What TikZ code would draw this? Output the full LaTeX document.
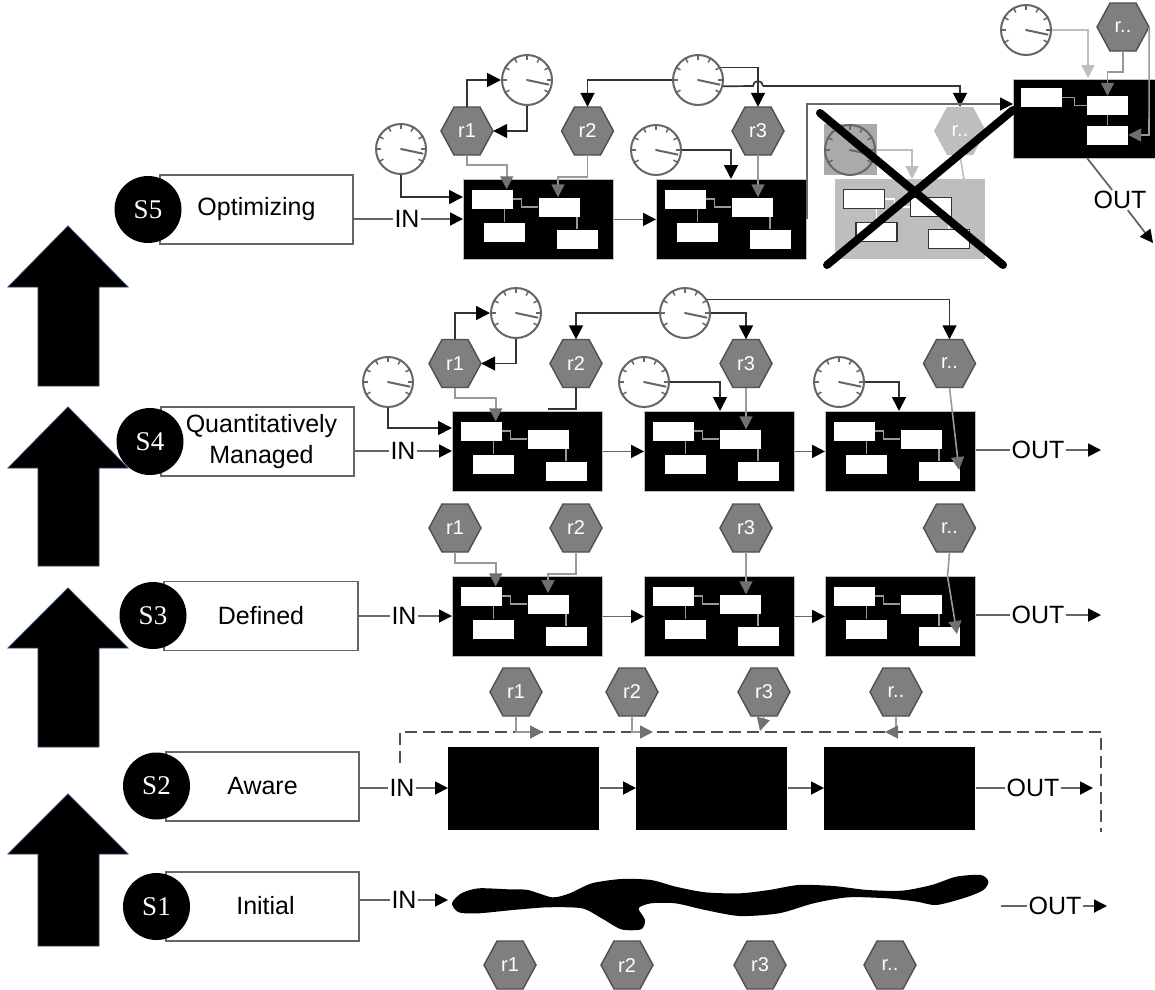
\documentclass[tikz,border=0pt]{standalone}
\usepackage{fontspec}
\setmainfont{Liberation Sans}
\newfontfamily\timesf{Liberation Serif}
\usetikzlibrary{arrows.meta,calc}
\definecolor{hexfill}{HTML}{7F7F7F}
\definecolor{hexline}{HTML}{4F4F4F}
\definecolor{gaugeline}{HTML}{666666}
\definecolor{linkdark}{HTML}{333333}
\definecolor{flowline}{HTML}{666666}
\definecolor{linkgrey}{HTML}{999999}
\definecolor{headgrey}{HTML}{707070}
\definecolor{lightg}{HTML}{BEBEBE}
\definecolor{squareg}{HTML}{AAAAAA}
\definecolor{bigedge}{HTML}{2A3F66}
\tikzset{
  x=1pt,y=-1pt,
  lab/.style={font=\fontsize{25}{31}\selectfont,align=center},
  stagebox/.style={draw=flowline,line width=1.5pt,fill=white,minimum width=#1,minimum height=69pt,inner sep=0pt,lab},
  stagedot/.style={circle,fill=black,minimum size=67pt,inner sep=0pt,text=white,font=\timesf\fontsize{27}{27}\selectfont},
  flowtxt/.style={inner sep=1pt,lab},
  proc/.style={fill=black,draw=lightg,line width=.8pt,minimum width=150pt,minimum height=80pt,inner sep=0pt},
  innerb/.style={fill=white,minimum width=41pt,minimum height=19pt,inner sep=0pt},
  innerlink/.style={draw=linkgrey,line width=1.2pt},
  hexshape/.style={fill=hexfill,draw=hexline,line width=1.4pt},
  hexlabel/.style={minimum width=52pt,minimum height=48pt,inner sep=0pt,text=white,font=\fontsize{20}{20}\selectfont},
  gaugeb/.style={circle,draw=gaugeline,line width=2pt,fill=white,minimum size=50pt,inner sep=0pt},
  gaugedraw/.style={draw=gaugeline,line width=1.5pt},
  flowarrow/.style={draw=flowline,line width=1.8pt,-{Triangle[length=13pt,width=13pt,color=black]}},
  flowplain/.style={draw=flowline,line width=1.8pt},
  blackarrow/.style={draw=linkdark,line width=1.7pt,-{Triangle[length=14pt,width=14pt,color=black]}},
  greyarrow/.style={draw=linkgrey,line width=1.6pt,-{Triangle[length=13pt,width=13pt,color=headgrey]}},
  lightarrow/.style={draw=lightg,line width=1.6pt,-{Triangle[length=13pt,width=13pt,color=lightg]}},
  bigarrow/.style={fill=black,draw=bigedge,line width=.8pt},
  dashline/.style={draw=hexline,line width=2.4pt,dash pattern=on 12pt off 6pt},
  crossline/.style={draw=black,line width=8pt,line cap=round}
}
% hexagon: #1 extra style, #2 name, #3 x, #4 y, #5 label
\newcommand{\hexa}[5][]{%
  \draw[hexshape,#1] (#3,#4) ++(-26,0) -- ++(13,-24) -- ++(26,0) -- ++(13,24) -- ++(-13,24) -- ++(-26,0) -- cycle;
  \node[hexlabel] (#2) at (#3,#4) {#5};}
% gauge: #1 extra style, #2 name, #3 x, #4 y
\newcommand{\gaugeat}[4][]{%
  \node[gaugeb,#1] (#2) at (#3,#4) {};
  \foreach \a in {210,180,150,120,90,60,30,0,-30}
    \draw[gaugedraw] (#2.\a) -- ($(#2.center)!0.78!(#2.\a)$);
  \draw[gaugedraw,line width=2pt,line cap=round] (#2.center) -- ($(#2.center)!0.85!(#2.-12)$);}
% process block: #1 name, #2 x, #3 y (top left)
\newcommand{\procbox}[3]{%
  \node[proc,anchor=north west] (#1) at (#2,#3) {};
  \node[innerb] (#1a) at ([shift={(29,20)}]#1.north west) {};
  \node[innerb] (#1b) at ([shift={(96,28)}]#1.north west) {};
  \node[innerb] (#1c) at ([shift={(41.5,53)}]#1.north west) {};
  \node[innerb] (#1d) at ([shift={(114,60)}]#1.north west) {};
  \draw[innerlink] (#1a.east) -- ++(9,0) -- ++(0,8) -- (#1b.west);
  \draw[innerlink] (#1a.south -| #1c.north) -- (#1c.north);
  \draw[innerlink] (#1b.south -| #1d.north) -- (#1d.north);}
\begin{document}
\begin{tikzpicture}
\useasboundingbox (0,0) rectangle (1155,989);
% big arrows
\foreach \t/\w/\b in {226/287/386,407/468/566,588/648/747,794/854/946}
  \draw[bigarrow] (68,\t) -- (128,\w) -- (99,\w) -- (99,\b) -- (38,\b) -- (38,\w) -- (8,\w) -- cycle;
% stage boxes and dots
\node[stagebox=193pt] (b5) at (256.5,209.5) {\raisebox{-2pt}{Optimizing}};
\node[stagebox=193pt] (b4) at (257.5,441.5) {\hspace*{8pt}Quantitatively\\\hspace*{8pt}Managed};
\node[stagebox=194pt] (b3) at (261,616) {\raisebox{1pt}{Defined}};
\node[stagebox=193pt] (b2) at (262.5,786.5) {\raisebox{2pt}{Aware}};
\node[stagebox=193pt] (b1) at (262.5,906.5) {\raisebox{2pt}{\hspace*{6pt}Initial}};
\node[stagedot] (d5) at (148,209.5) {S5};
\node[stagedot] (d4) at (150,441.5) {S4};
\node[stagedot] (d3) at (153,615.5) {S3};
\node[stagedot] (d2) at (156.5,786) {S2};
\node[stagedot] (d1) at (156.5,906.5) {S1};
% flow labels
\node[flowtxt] (in5) at (407,219) {IN};
\node[flowtxt] (in4) at (403,451) {IN};
\node[flowtxt] (in3) at (404,616) {IN};
\node[flowtxt] (in2) at (402,788) {IN};
\node[flowtxt] (in1) at (404,900) {IN};
\node[flowtxt] (out5) at (1120,200) {OUT};
\node[flowtxt] (out4) at (1038,450) {OUT};
\node[flowtxt] (out3) at (1038,615) {OUT};
\node[flowtxt] (out2) at (1033,788) {OUT};
\node[flowtxt] (out1) at (1055,906) {OUT};
% ---------- S5 row
\procbox{p5a}{463}{179}
\procbox{p5b}{656}{179}
\begin{scope}[proc/.append style={fill=lightg,draw=none},innerb/.append style={draw=linkdark,line width=1.3pt},innerlink/.append style={draw=white}]
\procbox{p5c}{835}{179}
\end{scope}
\node[proc,anchor=north west,minimum width=142pt,minimum height=79pt] (p5d) at (1013,79) {};
\node[innerb] (p5da) at (1041.5,97.5) {};
\node[innerb] (p5db) at (1107.5,105.5) {};
\node[innerb] (p5dc) at (1107.5,135) {};
\draw[innerlink] (p5da.east) -- ++(12,0) -- ++(0,8) -- (p5db.west);
\draw[innerlink] (p5db) -- (p5dc);
\hexa{s5r1}{467}{131}{r1}
\hexa{s5r2}{587.5}{131}{r2}
\hexa{s5r3}{758}{131}{r3}
\hexa[fill=lightg,draw=none]{s5rd}{960}{131}{r..}
\hexa{s5rt}{1123}{27}{r..}
\gaugeat{s5g1}{527}{80}
\gaugeat{s5g2}{401}{149}
\gaugeat{s5g3}{698}{80}
\gaugeat{s5g4}{656}{150}
\gaugeat{s5g6}{1026}{30}
\fill[squareg] (824,124) rectangle (877,175);
\gaugeat[fill=squareg]{s5g5}{850}{150}
\draw[flowplain] (b5.east |- in5) -- (in5);
\draw[flowarrow] (in5) -- (p5a.west |- in5);
\draw[flowarrow] (p5a.east) -- (p5b.west);
\draw[blackarrow] (s5g2.south) |- (p5a.west |- 0,197);
\draw[blackarrow] (s5r1.north) |- (s5g1.west);
\draw[blackarrow] (s5g1.south) |- (s5r1.east);
\draw[greyarrow] (s5r1.south) -- ++(0,10) -| ([xshift=-6pt]p5aa.north east);
\draw[greyarrow] (s5r2.south) -- ++(0,22) -| ([xshift=-1pt]p5ab.north);
\draw[blackarrow] (s5g3.west) -| (s5r2.north);
\draw[blackarrow] (s5g3.29) -| (s5r3.north);
\draw[draw=linkdark,line width=1.7pt] (s5g3.-14) -- (753,86) arc[start angle=180,end angle=360,radius=5] coordinate (jump5);
\draw[blackarrow] (jump5) -| (s5rd.north);
\draw[blackarrow] (s5g4.east) -| (731,179);
\draw[greyarrow] (s5r3.south) -- (s5r3.south |- p5bb.north);
\draw[flowarrow] (p5b.east) |- (p5d.west |- 0,104);
\draw[lightarrow] (s5g5.east) -| (912,179);
\draw[draw=lightg,line width=1.6pt] (s5rd.south) -- (964,179);
\draw[lightarrow] (s5g6.east) -| (1088,78);
\draw[greyarrow] (s5rt.south) -- ++(0,21) -| (p5db.north);
\draw[greyarrow] (s5rt.east) -- (1149,135) -- (p5dc.east);
\coordinate (d5out) at (1087,158);
\coordinate (end5) at (1153,243);
\draw[flowplain] (d5out) -- (out5);
\draw[flowarrow] (out5) -- (end5);
\coordinate (xa) at (820,113);
\coordinate (xb) at (1003,265);
\coordinate (xc) at (827,265);
\coordinate (xd) at (1013,110);
\draw[crossline] (xa) -- (xb);
\draw[crossline] (xc) -- (xd);
% ---------- S4 row
\procbox{p4a}{452}{411}
\procbox{p4b}{644}{411}
\procbox{p4c}{825}{411}
\hexa{s4r1}{455}{363.5}{r1}
\hexa{s4r2}{576}{363.5}{r2}
\hexa{s4r3}{746}{363.5}{r3}
\hexa{s4rd}{949.5}{363.5}{r..}
\gaugeat{s4g1}{516}{313}
\gaugeat{s4g2}{388}{382}
\gaugeat{s4g3}{685}{313}
\gaugeat{s4g4}{644}{382}
\gaugeat{s4g5}{839}{382}
\draw[flowplain] (b4.east |- in4) -- (in4);
\draw[flowarrow] (in4) -- (p4a.west |- in4);
\draw[flowarrow] (p4a.east) -- (p4b.west);
\draw[flowarrow] (p4b.east) -- (p4c.west);
\draw[flowplain] (p4c.east |- out4) -- (out4);
\coordinate (end4) at (1101,450);
\draw[flowarrow] (out4) -- (end4);
\draw[blackarrow] (s4g2.south) |- (p4a.west |- 0,428);
\draw[blackarrow] (s4r1.north) |- (s4g1.west);
\draw[blackarrow] (s4g1.south) |- (s4r1.east);
\draw[greyarrow] (s4r1.south) -- ++(0,10) -| ([xshift=-6pt]p4aa.north east);
\draw[draw=linkdark,line width=1.7pt] (s4r2.south) |- (548,409);
\draw[blackarrow] (s4g3.west) -| (s4r2.north);
\draw[blackarrow] (s4g3.east) -| (s4r3.north);
\draw[blackarrow] (s4g3.31) -| (s4rd.north);
\draw[blackarrow] (s4g4.east) -| (720,411);
\draw[greyarrow] (s4r3.south) -- (s4r3.south |- p4bb.north);
\draw[blackarrow] (s4g5.east) -| (899,411);
\draw[greyarrow] (s4rd.south) -- (959,470);
% ---------- S3 row
\procbox{p3a}{452}{576}
\procbox{p3b}{644}{576}
\procbox{p3c}{825}{576}
\hexa{s3r1}{455}{528}{r1}
\hexa{s3r2}{576}{528}{r2}
\hexa{s3r3}{746}{528}{r3}
\hexa{s3rd}{949.5}{528}{r..}
\draw[flowplain] (b3.east |- in3) -- (in3);
\draw[flowarrow] (in3) -- (p3a.west |- in3);
\draw[flowarrow] (p3a.east) -- (p3b.west);
\draw[flowarrow] (p3b.east) -- (p3c.west);
\draw[flowplain] (p3c.east |- out3) -- (out3);
\coordinate (end3) at (1101,615);
\draw[flowarrow] (out3) -- (end3);
\draw[greyarrow] (s3r1.south) -- ++(0,11) -| ([xshift=-6pt]p3aa.north east);
\draw[greyarrow] (s3r2.south) -- ++(0,22) -| (548,593);
\draw[greyarrow] (s3r3.south) -- (s3r3.south |- p3bb.north);
\draw[greyarrow] (s3rd.south) -- ++(-2,24) -- (957,634);
% ---------- S2 row
\node[proc,draw=none,anchor=north west,minimum width=151pt,minimum height=83pt] (p2a) at (448,747) {};
\node[proc,draw=none,anchor=north west,minimum width=151pt,minimum height=83pt] (p2b) at (636,747) {};
\node[proc,draw=none,anchor=north west,minimum width=151pt,minimum height=83pt] (p2c) at (824,747) {};
\hexa{s2r1}{516}{692}{r1}
\hexa{s2r2}{632}{692}{r2}
\hexa{s2r3}{764}{692}{r3}
\hexa{s2rd}{896}{692}{r..}
\coordinate (dash1) at (400,763);
\coordinate (dash2) at (400,732);
\coordinate (dash3) at (1101,732);
\coordinate (dash4) at (1101,832);
\draw[dashline] (dash1) -- (dash2) -- (dash3) -- (dash4);
\draw[flowplain] (b2.east |- in2) -- (in2);
\draw[flowarrow] (in2) -- (p2a.west |- in2);
\draw[flowarrow] (p2a.east |- in2) -- (p2b.west |- in2);
\draw[flowarrow] (p2b.east |- in2) -- (p2c.west |- in2);
\draw[flowplain] (p2c.east |- out2) -- (out2);
\coordinate (end2) at (1093,788);
\draw[flowarrow] (out2) -- (end2);
\draw[greyarrow] (s2r1.south) |- (543,732);
\draw[greyarrow] (s2r2.south) |- (653,732);
\draw[greyarrow] (s2r3.south) -- (760,731);
\draw[greyarrow] (s2rd.south) |- (885,732);
% ---------- S1 row
\hexa{s1r1}{510}{965}{r1}
\hexa{s1r2}{627}{965}{r2}
\hexa{s1r3}{760}{965}{r3}
\hexa{s1rd}{890}{965}{r..}
\begin{scope}[shift={(380,660)},x=0.4926pt,y=-0.3333pt]
\fill[black] plot[smooth cycle,tension=0.45] coordinates {(146,730)(165,700)(200,685)(260,688)(300,690)(350,712)(385,700)(430,670)(490,657)(550,660)(600,680)(660,697)(730,700)(790,690)(850,675)(920,678)(990,690)(1060,692)(1120,675)(1170,650)(1220,645)(1235,665)(1225,690)(1190,712)(1130,735)(1090,725)(1030,715)(950,712)(880,730)(810,760)(730,768)(660,750)(600,730)(550,730)(525,745)(538,780)(530,808)(490,808)(450,775)(410,745)(340,742)(270,750)(200,760)(160,757)};
\end{scope}
\coordinate (blob1) at (448,900);
\coordinate (start1) at (1001,906);
\coordinate (end1) at (1107,906);
\draw[flowplain] (b1.east |- in1) -- (in1);
\draw[flowarrow] (in1) -- (blob1);
\draw[flowplain] (start1) -- (out1);
\draw[flowarrow] (out1) -- (end1);
\end{tikzpicture}
\end{document}
